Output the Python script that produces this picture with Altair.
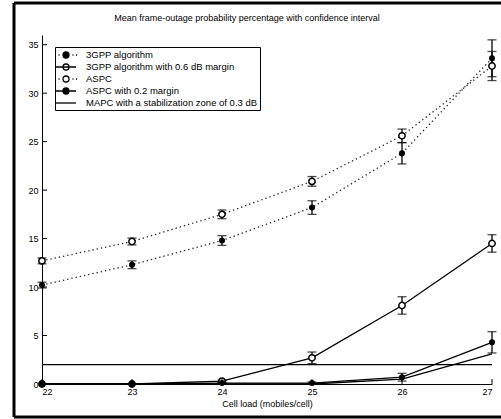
import altair as alt
import pandas as pd

# ---------------- data ----------------
loads = [22, 23, 24, 25, 26, 27]
names = [
    "3GPP algorithm",
    "3GPP algorithm with 0.6 dB margin",
    "ASPC",
    "ASPC with 0.2 margin",
    "MAPC with a stabilization zone of 0.3 dB",
]
title_text = ["Mean frame-outage probability percentage with confidence interval"]
gpp = [10.2, 12.3, 14.8, 18.2, 23.8, 33.6]
gpp_ci = [0.3, 0.4, 0.5, 0.7, 1.1, 1.9]
gpp06 = [0.0, 0.0, 0.3, 2.7, 8.1, 14.5]
gpp06_ci = [0.0, 0.0, 0.1, 0.6, 0.9, 0.9]
aspc = [12.7, 14.7, 17.5, 20.9, 25.6, 32.8]
aspc_ci = [0.3, 0.35, 0.45, 0.5, 0.7, 1.5]
aspc02 = [0.0, 0.0, 0.1, 0.1, 0.7, 4.3]
aspc02_ci = [0.0, 0.0, 0.05, 0.1, 0.4, 1.1]
mapc = [0.0, 0.0, 0.0, 0.0, 0.5, 3.1]
mapc_ci = [0.0, 0.0, 0.0, 0.0, 0.0, 0.0]
target = [2.0]
yticks = [0, 5, 10, 15, 20, 25, 30, 35]
xticks = [22, 23, 24, 25, 26, 27]

series_vals = [gpp, gpp06, aspc, aspc02, mapc]
series_ci = [gpp_ci, gpp06_ci, aspc_ci, aspc02_ci, mapc_ci]

rows = []
for name, vals, cis in zip(names, series_vals, series_ci):
    for l, v, c in zip(loads, vals, cis):
        rows.append({"series": name, "load": l, "value": v, "ci": c,
                     "lo": max(v - c, 0), "hi": v + c})
df = pd.DataFrame(rows)

dotted = [names[0], names[2]]
solid = [names[1], names[3], names[4]]
filled = [names[0], names[3]]
opened = [names[1], names[2]]

# ---------------- legend symbol paths ----------------
SYM = 100
u = (SYM ** 0.5) / 2.0  # px per unit


def p(v):
    return round(v / u, 3)


def circle(r):
    return f"M{p(-r)},0A{p(r)},{p(r)},0,1,1,{p(r)},0A{p(r)},{p(r)},0,1,1,{p(-r)},0Z"


def dots():
    s = ""
    for a in [-11, -7.5, 6.5, 10]:
        s += f"M{p(a)},0H{p(a + 1)}"
    return s


solid_line = f"M{p(-10)},0H{p(10)}"
shape_paths = [
    dots() + circle(3),
    solid_line + circle(3),
    dots() + circle(3),
    solid_line + circle(3),
    solid_line,
]
fills = ["black", "white", "white", "black", "white"]
strokes = ["black"] * 5

FONT = "Liberation Sans"
W, H = 450, 349

xenc = alt.X("load:Q", scale=alt.Scale(domain=[22, 27], nice=False, zero=False),
             axis=alt.Axis(values=xticks, title="Cell load (mobiles/cell)", tickSize=0,
                           grid=False, format="d", labelPadding=3, titlePadding=3,
                           domainColor="black", labelColor="black", titleColor="black",
                           labelFontSize=9, titleFontSize=9, titleFontWeight="normal"))
yenc = alt.Y("value:Q", scale=alt.Scale(domain=[0, 36], nice=False),
             axis=alt.Axis(values=yticks, title=None, tickSize=0, grid=False,
                           labelPadding=4, domainColor="black", labelColor="black",
                           labelFontSize=9))

base = alt.Chart(df)

dotted_lines = base.transform_filter(
    alt.FieldOneOfPredicate(field="series", oneOf=dotted)
).mark_line(color="#222", strokeWidth=1.3, strokeDash=[1.3, 3]).encode(
    x=xenc, y=yenc, detail="series:N")

solid_lines = base.transform_filter(
    alt.FieldOneOfPredicate(field="series", oneOf=solid)
).mark_line(color="black", strokeWidth=1.3).encode(
    x=xenc, y=yenc, detail="series:N")

err = base.transform_filter(alt.datum.ci > 0)
err_rule = err.mark_rule(color="black", strokeWidth=1.3).encode(
    x=xenc, y=alt.Y("lo:Q"), y2="hi:Q")
err_lo = err.mark_tick(color="black", orient="horizontal", size=9, thickness=1.3).encode(
    x=xenc, y=alt.Y("lo:Q"))
err_hi = err.mark_tick(color="black", orient="horizontal", size=9, thickness=1.3).encode(
    x=xenc, y=alt.Y("hi:Q"))

pts_filled = base.transform_filter(
    alt.FieldOneOfPredicate(field="series", oneOf=filled)
).mark_point(shape="circle", filled=True, color="black", size=36, opacity=1).encode(
    x=xenc, y=yenc)

pts_open = base.transform_filter(
    alt.FieldOneOfPredicate(field="series", oneOf=opened)
).mark_point(shape="circle", filled=False, color="black", fill="white", size=40,
             strokeWidth=1.5, opacity=1).encode(x=xenc, y=yenc)

legend = alt.Legend(title=None, orient="none", legendX=13, legendY=12,
                    symbolSize=SYM, symbolStrokeWidth=1.3, symbolStrokeColor="black",
                    symbolOffset=3, labelOffset=14, labelFont=FONT, labelFontSize=9.5,
                    labelColor="black", strokeColor="black", fillColor="white",
                    padding=2, rowPadding=0, labelLimit=400, symbolOpacity=1)

legend_layer = base.mark_point(opacity=0, color="black", strokeWidth=1.3).encode(
    x=xenc, y=yenc,
    shape=alt.Shape("series:N", scale=alt.Scale(domain=names, range=shape_paths), legend=legend),
    fill=alt.Fill("series:N", scale=alt.Scale(domain=names, range=fills), legend=legend),
    stroke=alt.Stroke("series:N", scale=alt.Scale(domain=names, range=strokes), legend=legend),
)

ref_line = alt.Chart(pd.DataFrame({"t": target})).mark_rule(
    color="black", strokeWidth=1.3).encode(y=alt.Y("t:Q"))

ytick_marks = alt.Chart(pd.DataFrame({"t": yticks})).mark_rule(
    color="black", strokeWidth=1).encode(y=alt.Y("t:Q"), x=alt.value(0), x2=alt.value(5))
xtick_marks = alt.Chart(pd.DataFrame({"t": xticks})).mark_rule(
    color="black", strokeWidth=1).encode(x=alt.X("t:Q"), y=alt.value(H), y2=alt.value(H - 5))

title_mark = alt.Chart(pd.DataFrame({"t": title_text})).mark_text(
    font=FONT, fontSize=9, color="black", align="center", baseline="middle").encode(
    text="t:N", x=alt.value(205), y=alt.value(-17))

one = pd.DataFrame({"a": [0]})
frame_left = alt.Chart(one).mark_rule(color="black", strokeWidth=3).encode(
    x=alt.value(-28), y=alt.value(-32), y2=alt.value(382))
frame_top = alt.Chart(one).mark_rule(color="black", strokeWidth=3).encode(
    x=alt.value(-28), x2=alt.value(470), y=alt.value(-32))
frame_bottom = alt.Chart(one).mark_rule(color="black", strokeWidth=3).encode(
    x=alt.value(-28), x2=alt.value(470), y=alt.value(382))

chart = alt.layer(
    ref_line, dotted_lines, solid_lines, err_rule, err_lo, err_hi,
    pts_open, pts_filled, legend_layer, ytick_marks, xtick_marks, title_mark,
    frame_left, frame_top, frame_bottom,
).properties(
    width=W, height=H,
    autosize=alt.AutoSizeParams(type="none"),
    padding={"left": 42, "top": 35, "right": 9, "bottom": 35},
).configure(font=FONT).configure_view(stroke=None).configure_axis(
    labelFont=FONT, titleFont=FONT)

chart.save("out.html", embed_options={"renderer": "svg", "actions": False})
